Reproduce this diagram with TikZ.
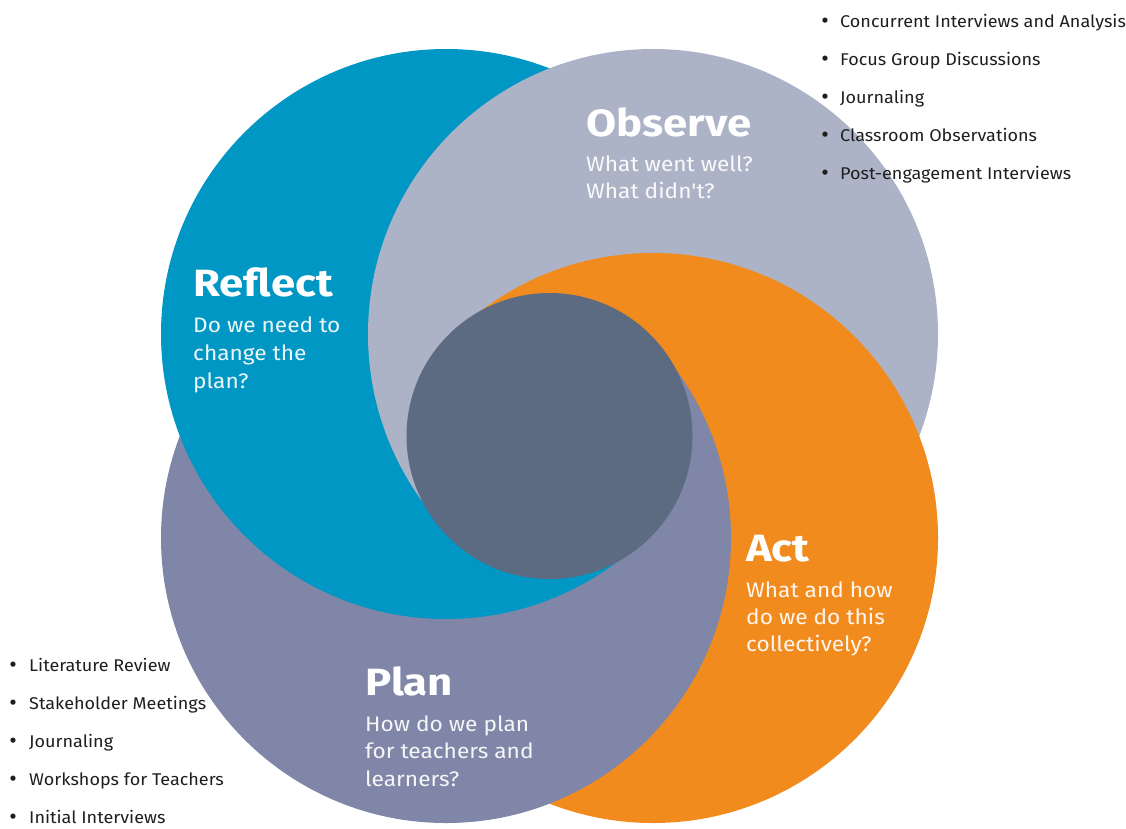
\documentclass[tikz,border=0pt]{standalone}
\usepackage{fontspec}
\setmainfont{Fira Sans}
\newfontfamily\headfont[FakeStretch=1.15]{Fira Sans}
\newfontfamily\subfont[FakeStretch=1.08]{Fira Sans}
\newfontfamily\listfont[FakeStretch=1.06]{Fira Sans}
\definecolor{cblue}{HTML}{0097C4}
\definecolor{cgray}{HTML}{ADB3C6}
\definecolor{corange}{HTML}{F28B1E}
\definecolor{cplan}{HTML}{7F86A8}
\definecolor{ccenter}{HTML}{5D6B82}
\definecolor{ctext}{HTML}{1E1E1E}
\newcommand\circReflect{\fill[cblue] (B) circle[radius=285pt];}
\newcommand\circObserve{\fill[cgray] (G) circle[radius=285pt];}
\newcommand\circAct{\fill[corange] (O) circle[radius=285pt];}
\newcommand\circPlan{\fill[cplan] (P) circle[radius=285pt];}
\begin{document}
\begin{tikzpicture}[x=1pt,y=-1pt,
 head/.style={anchor=base west, inner sep=0pt, text=white, font=\headfont\fontsize{38}{44}\selectfont\bfseries},
 sub/.style={anchor=base west, inner sep=0pt, text=white, text opacity=0.93, font=\subfont\fontsize{21}{25}\selectfont},
 item/.style={anchor=base west, inner sep=0pt, text=ctext, font=\listfont\fontsize{17}{20}\selectfont},
 dot/.style={anchor=base, inner sep=0pt, text=ctext, font=\fontsize{23}{20}\selectfont}]
\useasboundingbox (0,0) rectangle (1126,828);
\coordinate (C) at (549.5,436);
\coordinate (B) at (446,334);
\coordinate (G) at (653,334);
\coordinate (O) at (653,538);
\coordinate (P) at (446,538);
% top band
\begin{scope}
 \clip (-100,-100) rectangle (1300,336);
 \circPlan \circReflect \circObserve \circAct
\end{scope}
% bottom band
\begin{scope}
 \clip (-100,536) rectangle (1300,1000);
 \circObserve \circAct \circPlan \circReflect
\end{scope}
% middle: centre block (hidden under the centre disc)
\begin{scope}
 \clip (440,336) rectangle (660,536);
 \circPlan \circReflect \circObserve \circAct
\end{scope}
% middle left
\begin{scope}
 \clip (-100,336) rectangle (449,536);
 \circAct \circPlan \circReflect \circObserve
\end{scope}
% middle right
\begin{scope}
 \clip (650,336) rectangle (1300,536);
 \circReflect \circObserve \circAct \circPlan
\end{scope}
\fill[ccenter] (C) circle[radius=143pt];
% texts
\node[head] (hobs) at (586,136) {Observe};
\node[sub] (obs1) at (586,171) {What went well?};
\node[sub] (obs2) at (586,198) {What didn't?};
\node[head] (hrefl) at (193,296) {Reflect};
\node[sub] (ref1) at (193,332) {Do we need to};
\node[sub] (ref2) at (193,360) {change the};
\node[sub] (ref3) at (193,388) {plan?};
\node[head] (hact) at (746,561) {Act};
\node[sub] (act1) at (746,597) {What and how};
\node[sub] (act2) at (746,624) {do we do this};
\node[sub] (act3) at (746,651) {collectively?};
\node[head] (hplan) at (365,695) {Plan};
\node[sub] (pl1) at (365,731) {How do we plan};
\node[sub] (pl2) at (365,758) {for teachers and};
\node[sub] (pl3) at (365,786) {learners?};
% right list
\foreach \t [count=\i] in {Concurrent Interviews and Analysis,Focus Group Discussions,Journaling,Classroom Observations,Post-engagement Interviews}{
 \node[dot] (rb\i) at (825,{28+38*(\i-1)}) {•};
 \node[item] (ri\i) at (840,{27+38*(\i-1)}) {\t};
}
% left list
\foreach \t [count=\i] in {Literature Review,Stakeholder Meetings,Journaling,Workshops for Teachers,Initial Interviews}{
 \node[dot] (lb\i) at (13,{672+38*(\i-1)}) {•};
 \node[item] (li\i) at (29,{671+38*(\i-1)}) {\t};
}
\end{tikzpicture}
\end{document}
